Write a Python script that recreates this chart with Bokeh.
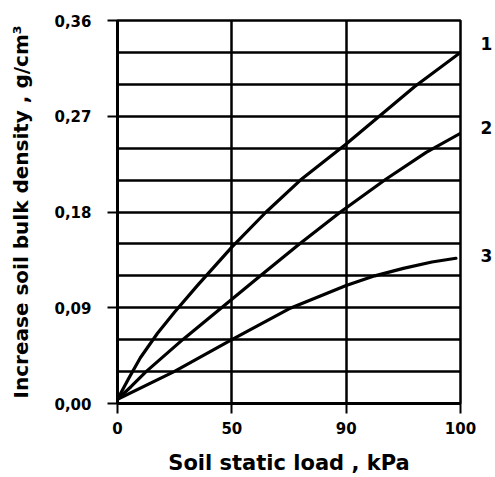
from bokeh.plotting import figure
from bokeh.models import FixedTicker, Range1d, LinearAxis
from bokeh.embed import file_html
from bokeh.resources import INLINE

# Category positions on the x axis (equally spaced) and their labels
x_ticks = [0, 1, 2, 3]
x_tick_labels = ["0", "50", "90", "100"]
y_ticks = [0.0, 0.09, 0.18, 0.27, 0.36]
y_tick_labels = ["0,00", "0,09", "0,18", "0,27", "0,36"]
y_grid = [0.03, 0.06, 0.09, 0.12, 0.15, 0.18, 0.21, 0.24, 0.27, 0.30, 0.33]
x_grid = [1, 2]

# Curve 1
c1_x = [0, 0.1, 0.2, 0.35, 0.5, 0.7, 1.0, 1.3, 1.6, 2.0, 2.3, 2.6, 3.0]
c1_y = [0.004, 0.024, 0.043, 0.066, 0.086, 0.111, 0.147, 0.180, 0.210, 0.244, 0.271, 0.298, 0.330]
# Curve 2
c2_x = [0, 0.12, 0.25, 0.57, 0.91, 1.25, 1.58, 1.95, 2.35, 2.7, 3.0]
c2_y = [0.004, 0.016, 0.030, 0.060, 0.090, 0.120, 0.149, 0.180, 0.211, 0.236, 0.254]
# Curve 3
c3_x = [0, 0.495, 1.0, 1.5, 2.0, 2.25, 2.5, 2.75, 2.96]
c3_y = [0.004, 0.030, 0.060, 0.089, 0.111, 0.120, 0.127, 0.133, 0.1365]

# Curve numbers shown at the right of the frame
curve_labels = ["1", "2", "3"]
curve_label_y = [0.338, 0.259, 0.139]

FONT = "DejaVu Sans"

p = figure(width=495, height=477, output_backend="svg", toolbar_location=None,
           x_range=Range1d(0, 3), y_range=Range1d(0, 0.36),
           min_border_left=117, min_border_right=35, min_border_top=20,
           min_border_bottom=72)
p.background_fill_color = "white"
p.border_fill_color = "white"
p.outline_line_color = "black"
p.outline_line_width = 2.5

# Right axis carrying the curve numbers
right = LinearAxis(ticker=FixedTicker(ticks=curve_label_y),
                   major_label_overrides={v: t for v, t in zip(curve_label_y, curve_labels)})
right.axis_line_color = None
right.major_tick_line_color = None
right.minor_tick_line_color = None
right.major_label_standoff = 14
right.major_label_text_font = FONT
right.major_label_text_font_style = "bold"
right.major_label_text_font_size = "17px"
right.major_label_text_color = "black"
p.add_layout(right, "right")

# Axes
lx = p.xaxis[0]
ly = p.yaxis[0]
lx.ticker = FixedTicker(ticks=x_ticks)
lx.major_label_overrides = {t: l for t, l in zip(x_ticks, x_tick_labels)}
ly.ticker = FixedTicker(ticks=y_ticks)
ly.major_label_overrides = {t: l for t, l in zip(y_ticks, y_tick_labels)}
for ax in (lx, ly):
    ax.axis_line_color = "black"
    ax.axis_line_width = 3
    ax.major_tick_line_color = "black"
    ax.major_tick_line_width = 2
    ax.major_tick_out = 10
    ax.major_tick_in = 0
    ax.minor_tick_line_color = None
    ax.major_label_text_font = FONT
    ax.major_label_text_font_style = "bold"
    ax.major_label_text_color = "black"
    ax.axis_label_text_font = FONT
    ax.axis_label_text_font_style = "bold"
    ax.axis_label_text_color = "black"

lx.major_label_text_font_size = "15px"
lx.major_label_standoff = 8
lx.axis_label = "Soil static load , kPa"
lx.axis_label_text_font_size = "21px"
lx.axis_label_standoff = 14

ly.major_label_text_font_size = "15px"
ly.major_label_standoff = 16
ly.axis_label = "Increase soil bulk density , g/cm\u00b3"
ly.axis_label_text_font_size = "20px"
ly.axis_label_standoff = 18

# Grid
p.xgrid.ticker = FixedTicker(ticks=x_grid)
p.ygrid.ticker = FixedTicker(ticks=y_grid)
for g in (p.xgrid, p.ygrid):
    g.grid_line_color = "black"
    g.grid_line_width = 2.5
    g.grid_line_alpha = 1.0

# Curves
for xs, ys in ((c1_x, c1_y), (c2_x, c2_y), (c3_x, c3_y)):
    p.line(xs, ys, line_color="black", line_width=3.2, line_join="round", line_cap="round")

open("out.html", "w").write(file_html(p, INLINE))
